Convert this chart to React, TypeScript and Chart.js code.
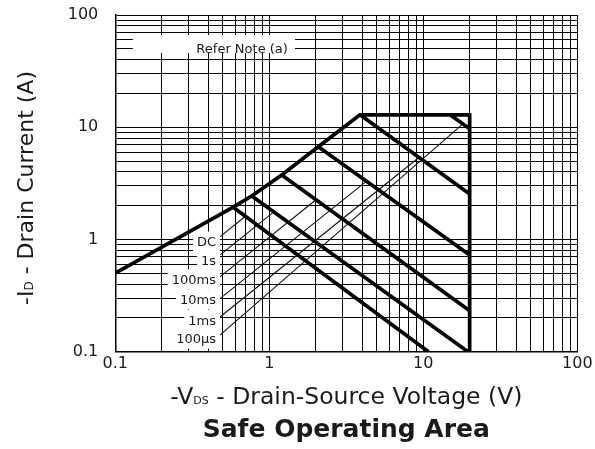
import React, { useEffect, useRef } from 'react';
import { Chart, registerables } from 'chart.js';

Chart.register(...registerables);

// ---------- Data (VDS in volts, ID in amperes) ----------
const boundaryV = [0.1, 0.583, 0.769, 1.204, 2.08, 3.88, 20, 20];
const boundaryI = [0.5, 1.94, 2.44, 3.76, 6.71, 12.9, 12.9, 0.1];

const pulseLabels = ['DC', '1s', '100ms', '10ms', '1ms', '100µs'];
const pulseStartV = [0.583, 0.769, 1.204, 2.08, 3.88, 14.9];
const pulseStartI = [1.94, 2.44, 3.76, 6.71, 12.9, 12.9];
const pulseEndV = [10.8, 19.5, 20, 20, 20, 20];
const pulseEndI = [0.1, 0.1, 0.232, 0.728, 2.54, 9.7];

// label anchors and leader lines (data units)
const labelAnchorV = 0.451;
const labelI = [0.96, 0.656, 0.442, 0.293, 0.192, 0.131];
const leaderStartV = [0.48, 0.48, 0.48, 0.48, 0.48, 0.48];
const leaderStartI = [1.06, 0.728, 0.466, 0.299, 0.205, 0.141];
const leaderEndV = [0.7, 1.07, 2.01, 4.28, 9.32, 18.1];
const leaderEndI = [1.61, 1.76, 2.26, 3.31, 5.35, 10.7];

const majorTicks = [0.1, 1, 10, 100];
const majorTickLabels = ['0.1', '1', '10', '100'];

const noteText = 'Refer Note (a)';
const noteBoxV = [0.13, 1.47];
const noteBoxI = [45.9, 66.5];
const noteTextV = 1.32;
const noteTextI = 51;

const chartTitle = 'Safe Operating Area';
const FONT = '"DejaVu Sans"';
const INK = '#1a1a1a';

function logTicks() {
  const t: number[] = [];
  for (let e = -1; e <= 1; e++) {
    for (let m = 1; m <= 9; m++) t.push(Number((m * Math.pow(10, e)).toPrecision(4)));
  }
  t.push(100);
  return t;
}

function tickLabel(value: any) {
  const v = Number(value);
  const idx = majorTicks.findIndex((m) => Math.abs(m - v) / m < 1e-6);
  return idx >= 0 ? majorTickLabels[idx] : '';
}

type Run = { text: string; size: number; bold?: boolean };

function runsWidth(ctx: CanvasRenderingContext2D, runs: Run[]) {
  let w = 0;
  for (const r of runs) {
    ctx.font = `${r.bold ? 'bold ' : ''}${r.size}px ${FONT}`;
    w += ctx.measureText(r.text).width;
  }
  return w;
}

function drawRunsCentered(ctx: CanvasRenderingContext2D, runs: Run[], cx: number, baseline: number) {
  const w = runsWidth(ctx, runs);
  let x = cx - w / 2;
  ctx.textAlign = 'left';
  ctx.textBaseline = 'alphabetic';
  for (const r of runs) {
    ctx.font = `${r.bold ? 'bold ' : ''}${r.size}px ${FONT}`;
    ctx.fillText(r.text, x, baseline);
    x += ctx.measureText(r.text).width;
  }
}

const annotPlugin = {
  id: 'soaAnnot',
  beforeDatasetsDraw(chart: any) {
    const { ctx } = chart;
    const xs = chart.scales.x;
    const ys = chart.scales.y;
    ctx.save();
    ctx.fillStyle = '#ffffff';
    const nx0 = xs.getPixelForValue(noteBoxV[0]);
    const nx1 = xs.getPixelForValue(noteBoxV[1]);
    const ny0 = ys.getPixelForValue(noteBoxI[1]);
    const ny1 = ys.getPixelForValue(noteBoxI[0]);
    ctx.fillRect(nx0, ny0, nx1 - nx0, ny1 - ny0);
    ctx.font = `13px ${FONT}`;
    pulseLabels.forEach((t, i) => {
      const px = xs.getPixelForValue(labelAnchorV);
      const py = ys.getPixelForValue(labelI[i]);
      const w = ctx.measureText(t).width;
      ctx.fillRect(px - w - 4, py - 10, w + 8, 20);
    });
    ctx.restore();
  },
  afterDatasetsDraw(chart: any) {
    const { ctx } = chart;
    const xs = chart.scales.x;
    const ys = chart.scales.y;
    ctx.save();
    ctx.fillStyle = INK;
    ctx.font = `13px ${FONT}`;
    ctx.textAlign = 'right';
    ctx.textBaseline = 'alphabetic';
    pulseLabels.forEach((t, i) => {
      const px = xs.getPixelForValue(labelAnchorV);
      const py = ys.getPixelForValue(labelI[i]);
      ctx.fillText(t, px, py + 0.3645 * 13);
    });
    ctx.fillText(noteText, xs.getPixelForValue(noteTextV), ys.getPixelForValue(noteTextI) + 0.3645 * 13);
    ctx.restore();
  },
  afterDraw(chart: any) {
    const { ctx, chartArea } = chart;
    ctx.save();
    ctx.fillStyle = INK;
    const cx = (chartArea.left + chartArea.right) / 2;
    // x axis title
    drawRunsCentered(
      ctx,
      [
        { text: '-V', size: 23.5 },
        { text: 'DS', size: 11 },
        { text: ' - Drain-Source Voltage (V)', size: 23.5 },
      ],
      cx,
      404
    );
    // chart title
    drawRunsCentered(ctx, [{ text: chartTitle, size: 25, bold: true }], cx, 437);
    // y axis title
    ctx.translate(25, 188);
    ctx.rotate(-Math.PI / 2);
    drawRunsCentered(
      ctx,
      [
        { text: '-I', size: 22 },
        { text: 'D', size: 12 },
        { text: ' - Drain Current (A)', size: 22 },
      ],
      0,
      8
    );
    ctx.restore();
  },
};

export default function App() {
  const ref = useRef<HTMLCanvasElement | null>(null);

  useEffect(() => {
    if (!ref.current) return;
    const datasets: any[] = [];
    const thick = { borderColor: '#000', borderWidth: 3.7, pointRadius: 0, showLine: true, fill: false, tension: 0, borderJoinStyle: 'miter' };
    datasets.push({
      ...thick,
      label: 'Boundary',
      data: boundaryV.map((v, i) => ({ x: v, y: boundaryI[i] })),
    });
    pulseLabels.forEach((lab, i) => {
      datasets.push({
        ...thick,
        label: lab,
        data: [
          { x: pulseStartV[i], y: pulseStartI[i] },
          { x: pulseEndV[i], y: pulseEndI[i] },
        ],
      });
    });
    pulseLabels.forEach((lab, i) => {
      datasets.push({
        label: lab + ' leader',
        borderColor: '#111',
        borderWidth: 1.1,
        pointRadius: 0,
        showLine: true,
        fill: false,
        data: [
          { x: leaderStartV[i], y: leaderStartI[i] },
          { x: leaderEndV[i], y: leaderEndI[i] },
        ],
      });
    });

    const axisCommon = (isX: boolean) => ({
      type: 'logarithmic' as const,
      min: 0.1,
      max: 100,
      afterBuildTicks: (scale: any) => {
        scale.ticks = logTicks().map((v) => ({ value: v, major: false }));
      },
      afterFit: (scale: any) => {
        if (isX) scale.height = 449 - 351.7;
        else scale.width = 115.3;
        scale.paddingTop = 0;
        scale.paddingBottom = 0;
        scale.paddingLeft = 0;
        scale.paddingRight = 0;
      },
      grid: { color: '#000', lineWidth: 1, drawTicks: false },
      border: { display: true, color: '#000', width: 1.5 },
      ticks: {
        autoSkip: false,
        maxRotation: 0,
        minRotation: 0,
        padding: isX ? 3 : 17,
        color: INK,
        font: { family: 'DejaVu Sans', size: 16 },
        callback: tickLabel,
      },
    });

    const chart = new Chart(ref.current, {
      type: 'scatter',
      data: { datasets },
      options: {
        animation: false,
        responsive: false,
        devicePixelRatio: 1,
        layout: { padding: { top: 15, right: 595 - 577.3, left: 0, bottom: 0 } },
        plugins: {
          legend: { display: false },
          tooltip: { enabled: false },
          title: { display: false },
        },
        scales: {
          x: axisCommon(true) as any,
          y: axisCommon(false) as any,
        },
      },
      plugins: [annotPlugin],
    });
    return () => chart.destroy();
  }, []);

  return (
    <div style={{ position: 'fixed', left: 0, top: 0, width: 595, height: 449, background: '#fff' }}>
      <canvas ref={ref} width={595} height={449} style={{ display: 'block', width: 595, height: 449 }} />
    </div>
  );
}
